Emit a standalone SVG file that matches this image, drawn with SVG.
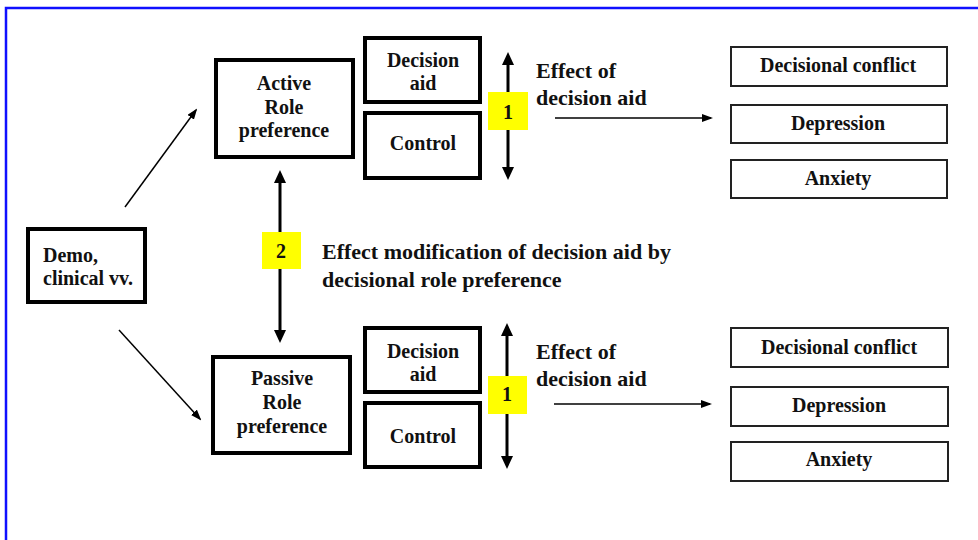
<svg xmlns="http://www.w3.org/2000/svg" width="978" height="540" viewBox="0 0 978 540">
<style>
  text { font-family: 'Liberation Serif', 'DejaVu Serif', 'Noto Serif', serif; font-weight: bold; fill: #111; }
  .n { font-size: 20px; text-anchor: middle; }
  .o { font-size: 20px; text-anchor: middle; }
  .l { font-size: 22px; }
  .d { font-size: 20px; }
  .thick { fill: #fff; stroke: #000; stroke-width: 4; }
  .thin { fill: #fff; stroke: #222; stroke-width: 2; }
  .tag { fill: #ffff00; stroke: none; }
  .big { stroke: #000; stroke-width: 3; fill: none; }
  .sm { stroke: #000; stroke-width: 1.5; fill: none; }
</style>
<defs>
  <marker id="ah" viewBox="0 0 13 12" refX="7" refY="6" markerWidth="13" markerHeight="12" markerUnits="userSpaceOnUse" orient="auto-start-reverse">
    <path d="M0,0 L13,6 L0,12 z" fill="#000"/>
  </marker>
  <marker id="as" viewBox="0 0 11 8" refX="9" refY="4" markerWidth="11" markerHeight="8" markerUnits="userSpaceOnUse" orient="auto">
    <path d="M0,0 L11,4 L0,8 z" fill="#000"/>
  </marker>
</defs>
<rect x="0" y="0" width="978" height="540" fill="#fff"/>
<rect x="6" y="8" width="1000" height="600" fill="none" stroke="#1010ff" stroke-width="2.5"/>

<g id="connectors">
  <line class="sm" x1="125" y1="207" x2="196" y2="110" marker-end="url(#as)"/>
  <line class="sm" x1="119" y1="330" x2="200" y2="419" marker-end="url(#as)"/>
  <line class="big" x1="280" y1="176" x2="280" y2="337" marker-start="url(#ah)" marker-end="url(#ah)"/>
  <line class="big" x1="508" y1="58" x2="508" y2="174" marker-start="url(#ah)" marker-end="url(#ah)"/>
  <line class="big" x1="507" y1="329" x2="507" y2="463" marker-start="url(#ah)" marker-end="url(#ah)"/>
  <line class="sm" x1="555" y1="118" x2="711" y2="118" marker-end="url(#as)"/>
  <line class="sm" x1="554" y1="404" x2="710" y2="404" marker-end="url(#as)"/>
</g>

<g id="demo">
  <rect class="thick" x="28" y="229" width="117" height="73"/>
  <text class="d" x="43" y="262">Demo,</text>
  <text class="d" x="43" y="285">clinical vv.</text>
</g>

<g id="active">
  <rect class="thick" x="216" y="60" width="137" height="97"/>
  <text class="n" x="284" y="90">Active</text>
  <text class="n" x="284" y="114">Role</text>
  <text class="n" x="284" y="137">preference</text>
</g>

<g id="passive">
  <rect class="thick" x="213" y="357" width="137" height="96"/>
  <text class="n" x="282" y="385">Passive</text>
  <text class="n" x="282" y="409">Role</text>
  <text class="n" x="282" y="433">preference</text>
</g>

<g id="aid-top">
  <rect class="thick" x="365" y="38" width="115" height="64"/>
  <text class="n" x="423" y="67">Decision</text>
  <text class="n" x="423" y="90">aid</text>
</g>
<g id="control-top">
  <rect class="thick" x="365" y="113" width="115" height="65"/>
  <text class="n" x="423" y="150">Control</text>
</g>
<g id="aid-bottom">
  <rect class="thick" x="365" y="328" width="115" height="64"/>
  <text class="n" x="423" y="358">Decision</text>
  <text class="n" x="423" y="381">aid</text>
</g>
<g id="control-bottom">
  <rect class="thick" x="365" y="403" width="115" height="64"/>
  <text class="n" x="423" y="443">Control</text>
</g>

<g id="tag1-top">
  <rect class="tag" x="488" y="92" width="40" height="38"/>
  <text class="n" x="508" y="119">1</text>
</g>
<g id="tag1-bottom">
  <rect class="tag" x="488" y="376" width="39" height="38"/>
  <text class="n" x="507" y="401">1</text>
</g>
<g id="tag2">
  <rect class="tag" x="262" y="232" width="39" height="37"/>
  <text class="n" x="281" y="258">2</text>
</g>

<g id="label-effect-top">
  <text class="l" x="536" y="78">Effect of</text>
  <text class="l" x="536" y="105">decision aid</text>
</g>
<g id="label-effect-bottom">
  <text class="l" x="536" y="359">Effect of</text>
  <text class="l" x="536" y="386">decision aid</text>
</g>
<g id="label-modification">
  <text class="l" x="322" y="259">Effect modification of decision aid by</text>
  <text class="l" x="322" y="287">decisional role preference</text>
</g>

<g id="out-conflict-top">
  <rect class="thin" x="731" y="47" width="216" height="39"/>
  <text class="o" x="838" y="72">Decisional conflict</text>
</g>
<g id="out-depression-top">
  <rect class="thin" x="731" y="105" width="216" height="38"/>
  <text class="o" x="838" y="130">Depression</text>
</g>
<g id="out-anxiety-top">
  <rect class="thin" x="731" y="160" width="216" height="38"/>
  <text class="o" x="838" y="185">Anxiety</text>
</g>
<g id="out-conflict-bottom">
  <rect class="thin" x="731" y="328" width="217" height="39"/>
  <text class="o" x="839" y="354">Decisional conflict</text>
</g>
<g id="out-depression-bottom">
  <rect class="thin" x="731" y="387" width="217" height="39"/>
  <text class="o" x="839" y="412">Depression</text>
</g>
<g id="out-anxiety-bottom">
  <rect class="thin" x="731" y="442" width="217" height="39"/>
  <text class="o" x="839" y="466">Anxiety</text>
</g>
</svg>
